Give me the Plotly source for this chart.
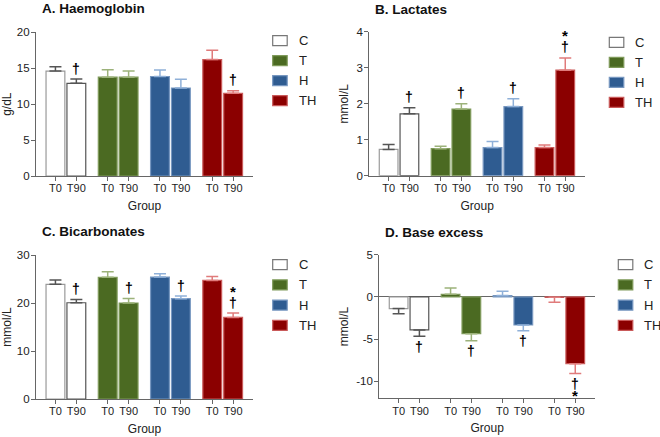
import plotly.graph_objects as go

# ---------------- data ----------------
groups = ["C", "T", "H", "TH"]
times = ["T0", "T90"]

hb_mean = [14.6, 12.9, 13.75, 13.75, 13.85, 12.25, 16.2, 11.5]
hb_err = [0.6, 0.6, 1.05, 0.85, 0.9, 1.2, 1.3, 0.35]
hb_sig = ["", "†", "", "", "", "", "", "†"]

lac_mean = [0.73, 1.72, 0.75, 1.85, 0.78, 1.92, 0.78, 2.93]
lac_err = [0.14, 0.17, 0.07, 0.15, 0.17, 0.22, 0.07, 0.34]
lac_sig = ["", "†", "", "†", "", "†", "", "†*"]

bic_mean = [23.9, 20.05, 25.35, 20.0, 25.4, 20.9, 24.7, 17.0]
bic_err = [0.9, 0.7, 1.15, 0.95, 0.7, 0.55, 0.8, 0.9]
bic_sig = ["", "†", "", "†", "", "†", "", "†*"]

be_mean = [-1.38, -3.9, 0.32, -4.35, 0.16, -3.32, -0.05, -7.9]
be_err = [0.6, 0.76, 0.75, 0.83, 0.51, 0.68, 0.58, 1.15]
be_sig = ["", "†", "", "†", "", "†", "", "†*"]

panel_titles = ["A. Haemoglobin", "B. Lactates", "C. Bicarbonates", "D. Base excess"]
y_titles = ["g/dL", "mmol/L", "mmol/L", "mmol/L"]
x_title = "Group"
y_ranges = [[0, 20], [0, 4], [0, 30], [-12, 5]]
y_ticks = [[0, 5, 10, 15, 20], [0, 1, 2, 3, 4], [0, 10, 20, 30], [-10, -5, 0, 5]]

# ---------------- style ----------------
FONT = "Arial, Liberation Sans, sans-serif"
TXT = "#222222"
AX = "#666666"
fills = ["#ffffff", "#4b6a22", "#2f5c91", "#8b0000"]
edges = [["#9a9a9a", "#555555"], ["#7f9a5a", "#7f9a5a"], ["#7797c0", "#7797c0"], ["#c95a5a", "#c95a5a"]]
errcols = ["#555555", "#9cb27a", "#8fb0d8", "#e07b7b"]
legend_edges = ["#777777", "#7f9a5a", "#7797c0", "#c95a5a"]

W, H = 660, 437
# panel geometry in pixels: (x_left, x_right, y_top, y_bottom)
panels = [
    (36, 253, 32.3, 176.0),
    (369.3, 585, 31.7, 175.7),
    (36, 253, 255.0, 399.0),
    (379.3, 595, 254.7, 398.3),
]
title_pos = [(40, 8.5), (373.3, 9), (40, 231.5), (383.3, 232)]
legend_pos = [  # (box_left, first_center_y, step)
    (272.7, 40.7, 20.0),
    (609.3, 42.3, 20.0),
    (272.7, 264.7, 20.2),
    (618.3, 264.7, 20.2),
]

means = [hb_mean, lac_mean, bic_mean, be_mean]
errs = [hb_err, lac_err, bic_err, be_err]
sigs = [hb_sig, lac_sig, bic_sig, be_sig]

xpos = [g * 2.5 + t for g in range(len(groups)) for t in range(len(times))]
tick_text = [t for g in groups for t in times]

fig = go.Figure()
annotations = []
shapes = []

for p in range(4):
    sfx = "" if p == 0 else str(p + 1)
    xa, ya = "x" + sfx, "y" + sfx
    m, e = means[p], errs[p]
    for g in range(len(groups)):
        idx = [2 * g, 2 * g + 1]
        vals = [m[i] for i in idx]
        up = [e[i] if m[i] >= 0 else 0 for i in idx]
        dn = [e[i] if m[i] < 0 else 0 for i in idx]
        fig.add_trace(go.Bar(
            x=[xpos[i] for i in idx], y=vals, width=0.9,
            marker=dict(color=fills[g], line=dict(color=edges[g], width=1.2)),
            error_y=dict(type="data", symmetric=False, array=up, arrayminus=dn,
                         color=errcols[g], thickness=1.5, width=6),
            xaxis=xa, yaxis=ya, showlegend=False, name=groups[g],
        ))
    # significance marks
    for i, s in enumerate(sigs[p]):
        if not s:
            continue
        neg = m[i] < 0
        cap = m[i] + (-e[i] if neg else e[i])
        for k, ch in enumerate(s):
            dist = 10.5 if ch == "†" else 22
            shift = dist if not neg else -dist
            annotations.append(dict(
                x=xpos[i], y=cap, xref=xa, yref=ya, text="<b>%s</b>" % ch,
                showarrow=False, yanchor="middle", borderpad=0,
                yshift=shift, font=dict(family=FONT, size=15 if ch == "*" else 14, color="#000000"),
            ))
    xl, xr, yt, yb = panels[p]
    fig.update_layout(**{
        "xaxis" + sfx: dict(
            domain=[xl / W, xr / W], anchor=ya, range=[-0.93, 9.45],
            tickvals=xpos, ticktext=tick_text, ticks="outside", ticklen=4,
            tickcolor=AX, showline=True, linecolor=AX, linewidth=1.2,
            showgrid=False, zeroline=False, automargin=False, ticklabelstandoff=-2,
            tickfont=dict(family=FONT, size=11, color=TXT),
            title=dict(text=x_title, font=dict(family=FONT, size=12, color=TXT), standoff=8),
        ),
        "yaxis" + sfx: dict(
            domain=[(H - yb) / H, (H - yt) / H], anchor=xa, range=y_ranges[p],
            tickvals=y_ticks[p], ticktext=[str(v) for v in y_ticks[p]],
            ticks="outside", ticklen=4, tickcolor=AX, showline=True,
            linecolor=AX, linewidth=1.2, showgrid=False, automargin=False,
            zeroline=(p == 3), zerolinecolor=AX, zerolinewidth=1.2,
            ticklabelstandoff=-1,
            tickfont=dict(family=FONT, size=11.5, color=TXT),
            title=dict(text=y_titles[p], font=dict(family=FONT, size=12, color=TXT), standoff=5),
        ),
    })
    # panel title
    tx, ty = title_pos[p]
    annotations.append(dict(
        x=tx / W, y=(H - ty) / H, xref="paper", yref="paper", text="<b>%s</b>" % panel_titles[p],
        showarrow=False, xanchor="left", yanchor="middle",
        font=dict(family=FONT, size=13.5, color="#111111"),
    ))
    # legend
    bx, by, step = legend_pos[p]
    for g in range(len(groups)):
        cy = by + g * step
        shapes.append(dict(
            type="rect", xref="paper", yref="paper",
            x0=bx / W, x1=(bx + 14.5) / W, y0=(H - cy - 5) / H, y1=(H - cy + 5) / H,
            fillcolor=fills[g], line=dict(color=legend_edges[g], width=1.2),
        ))
        annotations.append(dict(
            x=(bx + 24) / W, y=(H - cy) / H, xref="paper", yref="paper", text=groups[g],
            showarrow=False, xanchor="left", yanchor="middle",
            font=dict(family=FONT, size=13, color=TXT),
        ))

fig.update_layout(
    width=W, height=H, margin=dict(l=0, r=0, t=0, b=0, autoexpand=False),
    paper_bgcolor="white", plot_bgcolor="white",
    barmode="overlay", annotations=annotations, shapes=shapes,
    font=dict(family=FONT, color=TXT),
)

fig.write_html("out.html", config={"displayModeBar": False},
               post_script="document.body.style.margin='0';document.body.style.overflow='hidden';")
